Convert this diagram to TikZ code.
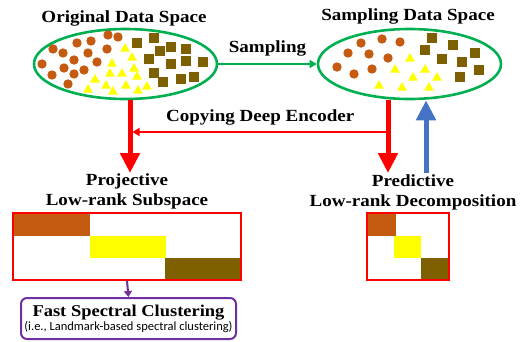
\documentclass[tikz,border=0pt]{standalone}
\usepackage{fontspec}
\setmainfont{Liberation Serif}
\newfontfamily\headfont[FakeStretch=1.12]{Liberation Serif}
\newfontfamily\smallsans{Carlito}
\usepackage{tikz}
\usetikzlibrary{arrows.meta,positioning,shapes.geometric}

\definecolor{spgreen}{RGB}{0,176,80}
\definecolor{sporange}{RGB}{197,90,17}
\definecolor{spyellow}{RGB}{255,255,0}
\definecolor{spbrown}{RGB}{127,96,0}
\definecolor{spblue}{RGB}{68,114,196}
\definecolor{sppurple}{RGB}{112,48,160}

\begin{document}
\begin{tikzpicture}[x=1pt, y=-1pt,
  space/.style={ellipse,draw=spgreen,line width=2.6pt,minimum width=183pt,minimum height=70pt,inner sep=0pt},
  title/.style={font=\headfont\bfseries\fontsize{17}{19}\selectfont,text=black,align=center,inner sep=0pt},
  mat/.style={rectangle,draw=red,line width=2pt,inner sep=0pt},
  bigarrow/.style={line width=5pt,-{Triangle[width=19pt,length=20pt]}},
  thinarrow/.style={line width=2pt,-{Triangle[width=8pt,length=7pt]}}]
  \useasboundingbox (0,0) rectangle (524,341);

  % the two data spaces
  \node[space] (orig) at (125.5,64) {};
  \node[space] (samp) at (409.5,64) {};
  \node[title] (origt) at (124,18) {Original Data Space};
  \node[title] (sampt) at (408,16) {Sampling Data Space};

  % points of the original space
  \foreach \x/\y in {108/35,118/37,77/43,91/41,53/49,63/53,88/53,107/49,74/60,97/62,42/64,64/68,84/70,52/75,74/74,68/84}
    \fill[sporange] (\x,\y) circle (4.7);
  \foreach \x/\y in {125/48,132/57,112/63,134/68,110/73,122/73,137/76,95/79,106/85,126/85,88/89,113/91,138/90,147/86}
    \fill[spyellow] (\x,{\y-5}) -- ({\x+4.8},{\y+3.5}) -- ({\x-4.8},{\y+3.5}) -- cycle;
  \foreach \x/\y in {137/43,154/38,160/51,171/47,186/49,149/59,171/64,186/61,203/62,154/73,163/82,181/79,194/77}
    \fill[spbrown] ({\x-4.7},{\y-4.7}) rectangle ({\x+4.7},{\y+4.7});

  % points of the sampled space
  \foreach \x/\y in {361/43,382/39,400/42,348/53,369/54,388/58,337/67,354/74,372/69}
    \fill[sporange] (\x,\y) circle (4.7);
  \foreach \x/\y in {410/58,395/69,425/69,413/77,437/77,379/85,402/87,429/87}
    \fill[spyellow] (\x,{\y-5}) -- ({\x+4.8},{\y+3.5}) -- ({\x-4.8},{\y+3.5}) -- cycle;
  \foreach \x/\y in {432/38,425/50,453/45,442/59,462/62,475/53,479/70,460/77}
    \fill[spbrown] ({\x-4.7},{\y-4.7}) rectangle ({\x+4.7},{\y+4.7});

  % sampling step
  \draw[thinarrow,spgreen] (orig.east) -- node[title,above=7pt] {Sampling} (samp.west);

  % labels under the spaces
  \node[title] (proj) at (127,191) {Projective\\[1pt]Low-rank Subspace};
  \node[title] (pred) at (413,192) {Predictive\\[1pt]Low-rank Decomposition};

  % encoder arrows
  \coordinate (lfoot) at (130,173);
  \coordinate (rfoot) at (388,173);
  \coordinate (bfoot) at (426,173);
  \draw[bigarrow,red] ([xshift=4.5pt]orig.south) -- (lfoot);
  \draw[bigarrow,red] ([xshift=-21.5pt]samp.south) -- (rfoot);
  \draw[bigarrow,spblue] (bfoot) -- ([xshift=16.5pt]samp.south);
  \coordinate (cpr) at (388,132);
  \coordinate (cpl) at (132.5,132);
  \draw[thinarrow,red] (cpr) -- node[title,above=6pt] {Copying Deep Encoder} (cpl);

  % block diagonal matrices
  \fill[sporange] (14,214) rectangle (90,236);
  \fill[spyellow] (90,236) rectangle (166,258);
  \fill[spbrown] (165,258) rectangle (240,279);
  \node[mat,minimum width=228pt,minimum height=67pt] (lmat) at (127,246.5) {};
  \fill[sporange] (368,214) rectangle (396,236);
  \fill[spyellow] (394,236) rectangle (421,258);
  \fill[spbrown] (421,258) rectangle (448,279);
  \node[mat,minimum width=82pt,minimum height=67pt] (rmat) at (408,246.5) {};

  % clustering step
  \node[rectangle,rounded corners=6pt,draw=sppurple,line width=2pt,minimum width=215pt,minimum height=41pt,inner sep=0pt,align=center] (fsc) at (128.5,318.5)
    {{\headfont\bfseries\fontsize{16.5}{17}\selectfont Fast Spectral Clustering}\\[0pt]{\smallsans\fontsize{12.5}{13}\selectfont (i.e., Landmark-based spectral clustering)}};
  \draw[sppurple,line width=2pt,-{Triangle[width=8pt,length=6pt]}] (lmat.south) -- (fsc.north);
\end{tikzpicture}
\end{document}
